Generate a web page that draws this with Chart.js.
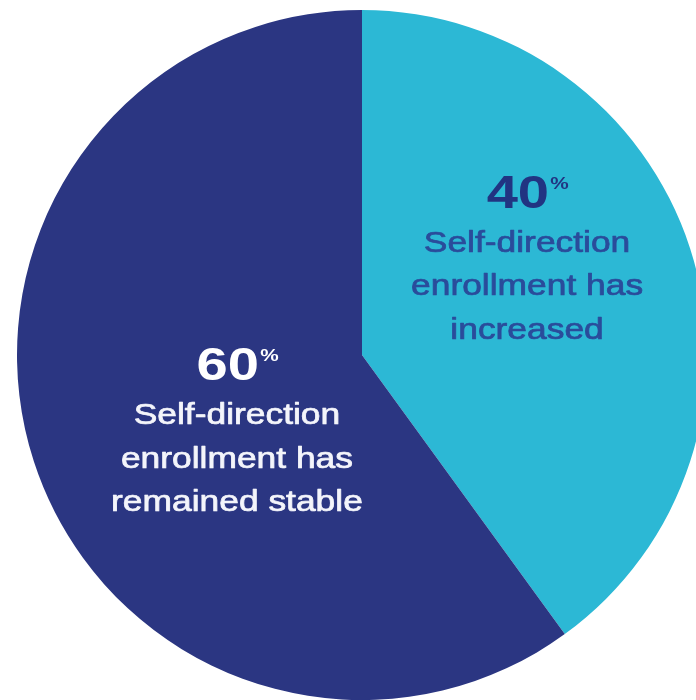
<!DOCTYPE html>
<html>
<head>
<meta charset="utf-8">
<script src="https://cdn.jsdelivr.net/npm/chart.js@4.4.1/dist/chart.umd.min.js"></script>
<style>
  html, body { margin: 0; padding: 0; overflow: hidden; background: #fff; width: 696px; height: 700px; }
  #pie { position: absolute; left: 17px; top: 10px; }
</style>
</head>
<body>
<canvas id="pie" width="690" height="690"></canvas>
<script>
// Survey split
const categories = ['Self-direction enrollment has increased', 'Self-direction enrollment has remained stable'];
const shares = [40, 60];
const sliceColors = ['#2cb8d5', '#2b3682'];

// label text per slice (lines under the big number)
const labelLines = [
  ['Self-direction', 'enrollment has', 'increased'],
  ['Self-direction', 'enrollment has', 'remained stable']
];

// offsets from each slice's tooltip point to the label block
const labelStyle = [
  { dx: 1, dy: -94, numColor: '#213482', textColor: '#2a4c9b' },
  { dx: 39, dy: -28, numColor: '#ffffff', textColor: '#f4f5fb' }
];

const FONT = '"Liberation Sans", Arial, Helvetica, sans-serif';
const STRETCH = 1.22;

const pieLabels = {
  id: 'pieLabels',
  afterDatasetsDraw(chart) {
    const ctx = chart.ctx;
    const arcs = chart.getDatasetMeta(0).data;
    arcs.forEach((arc, i) => {
      const pos = arc.tooltipPosition();
      const st = labelStyle[i];
      ctx.save();
      ctx.translate(pos.x + st.dx, pos.y + st.dy);
      ctx.scale(STRETCH, 1);
      ctx.textBaseline = 'alphabetic';

      // big number + small superscript %
      const num = String(shares[i]);
      ctx.font = 'bold 46px ' + FONT;
      const numW = ctx.measureText(num).width;
      ctx.font = 'bold 17px ' + FONT;
      const pctW = ctx.measureText('%').width;
      const total = numW + pctW;
      ctx.fillStyle = st.numColor;
      ctx.textAlign = 'left';
      ctx.font = 'bold 46px ' + FONT;
      ctx.fillText(num, -total / 2, 0);
      ctx.font = 'bold 17px ' + FONT;
      ctx.fillText('%', -total / 2 + numW + 1, -19);

      // description lines, a touch heavier like the original
      ctx.font = '29px ' + FONT;
      ctx.textAlign = 'center';
      ctx.fillStyle = st.textColor;
      ctx.strokeStyle = st.textColor;
      ctx.lineWidth = 0.7;
      ctx.lineJoin = 'round';
      labelLines[i].forEach((line, j) => {
        const y = 44 + j * 43.5;
        ctx.fillText(line, 0, y);
        ctx.strokeText(line, 0, y);
      });
      ctx.restore();
    });
  }
};

function initPie() {
  const ctx = document.getElementById('pie').getContext('2d');
  new Chart(ctx, {
    type: 'pie',
    data: {
      labels: categories,
      datasets: [{
        data: shares,
        backgroundColor: sliceColors,
        borderWidth: 0,
        hoverOffset: 0
      }]
    },
    options: {
      responsive: false,
      animation: false,
      events: [],
      layout: { padding: 0 },
      plugins: {
        legend: { display: false },
        tooltip: { enabled: false }
      }
    },
    plugins: [pieLabels]
  });
}

initPie();
</script>
</body>
</html>
